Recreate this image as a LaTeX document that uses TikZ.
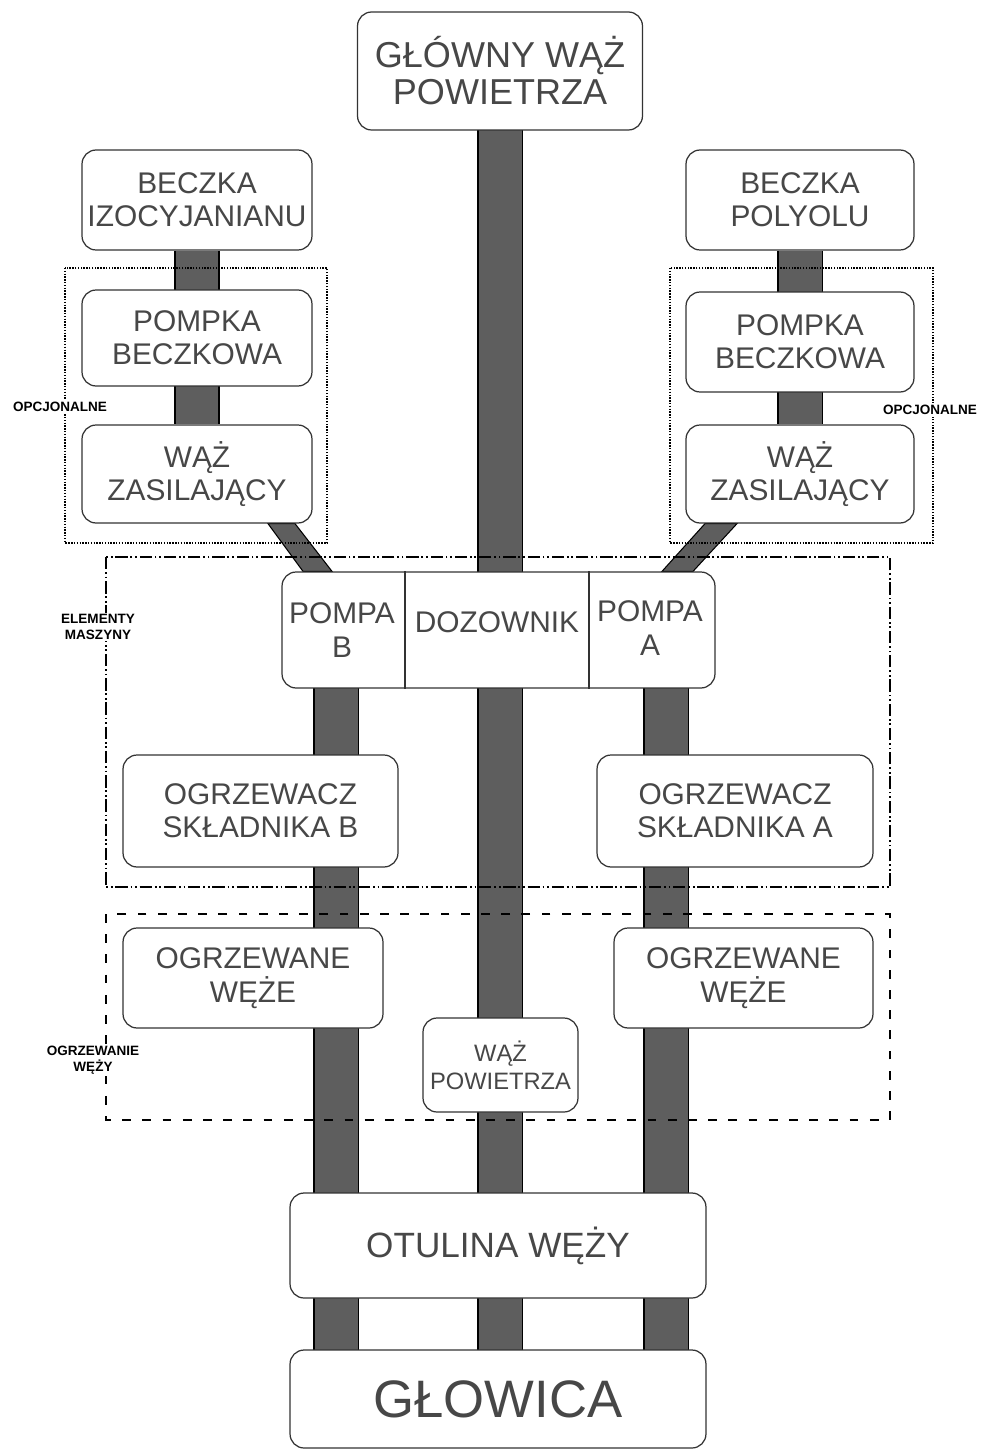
\documentclass[tikz,border=0pt]{standalone}
\usepackage{fontspec}
\setmainfont{Liberation Sans}
\usepackage{tikz}
\usetikzlibrary{backgrounds}
\definecolor{txtgray}{HTML}{474747}
\definecolor{hosegray}{HTML}{5E5E5E}

\begin{document}
\begin{tikzpicture}[x=0.02cm, y=-0.02cm,
    box/.style={draw=black!80, fill=white, line width=0.7pt, rounded corners=8pt,
      inner sep=0pt, text=txtgray, align=center, font=\fontsize{17}{19}\selectfont},
    size/.style 2 args={minimum width=#1, minimum height=#2},
    lbl/.style={text=txtgray, align=center, font=\fontsize{17}{19}\selectfont},
    divider/.style={draw=black!80, line width=0.7pt},
    hose/.style={draw=black, line width=0.6pt, double=hosegray, double distance=0.86cm},
    slant/.style={draw=black, line width=0.6pt, fill=hosegray},
    framelbl/.style={fill=white, inner sep=1pt, align=center, font=\fontsize{7.7}{9}\selectfont\bfseries},
    optframe/.style={line width=0.6pt, dash pattern=on 0.8pt off 0.8pt},
    machframe/.style={line width=0.7pt, dash pattern=on 7pt off 1.6pt on 1pt off 1.6pt on 1pt off 1.6pt},
    heatframe/.style={line width=0.8pt, dash pattern=on 5pt off 6.5pt},
  ]
  \useasboundingbox (0,0) rectangle (983,1449);

  % Air supply
  \node[box, size={5.7cm}{2.36cm}, font=\fontsize{20.5}{21}\selectfont] (main) at (500,71)
    {GŁÓWNY WĄŻ\\POWIETRZA};

  % Component B (left) and component A (right)
  \node[box, size={4.6cm}{2cm}] (barrelB) at (197,200) {BECZKA\\IZOCYJANIANU};
  \node[box, size={4.6cm}{1.92cm}] (pumpkaB) at (197,338) {POMPKA\\BECZKOWA};
  \node[box, size={4.6cm}{1.96cm}] (feedB) at (197,474) {WĄŻ\\ZASILAJĄCY};
  \node[box, size={4.56cm}{2cm}] (barrelA) at (800,200) {BECZKA\\POLYOLU};
  \node[box, size={4.56cm}{2cm}] (pumpkaA) at (800,342) {POMPKA\\BECZKOWA};
  \node[box, size={4.56cm}{1.96cm}] (feedA) at (800,474) {WĄŻ\\ZASILAJĄCY};

  % Proportioner block
  \node[box, size={8.66cm}{2.32cm}] (block) at (498.5,630) {};
  \coordinate (divL) at (405,630);
  \coordinate (divR) at (589,630);
  \draw[divider] (block.north -| divL) -- (block.south -| divL);
  \draw[divider] (block.north -| divR) -- (block.south -| divR);
  \node[lbl] (pumpB) at (342,630) {POMPA\\B};
  \node[lbl] (dozownik) at (497,622) {DOZOWNIK};
  \node[lbl] (pumpA) at (650,628) {POMPA\\A};
  \coordinate (pipeB) at (336,630);
  \coordinate (pipeA) at (666,630);

  % Heaters and heated hoses
  \node[box, size={5.5cm}{2.24cm}] (heaterB) at (260.5,811) {OGRZEWACZ\\SKŁADNIKA B};
  \node[box, size={5.52cm}{2.24cm}] (heaterA) at (735,811) {OGRZEWACZ\\SKŁADNIKA A};
  \node[box, size={5.2cm}{2cm}] (hoseB) at (253,978) {OGRZEWANE\\WĘŻE};
  \node[box, size={5.18cm}{2cm}] (hoseA) at (743.5,978) {OGRZEWANE\\WĘŻE};
  \node[box, size={3.1cm}{1.88cm}, font=\fontsize{13.5}{16}\selectfont] (airhose) at (500.5,1065)
    {WĄŻ\\POWIETRZA};

  % Bundle and gun
  \node[box, size={8.32cm}{2.1cm}, font=\fontsize{20}{22}\selectfont] (jacket) at (498,1245.5)
    {OTULINA WĘŻY};
  \node[box, size={8.32cm}{1.96cm}, font=\fontsize{30}{32}\selectfont] (head) at (498,1399)
    {GŁOWICA};

  % Hoses behind the boxes
  \begin{scope}[on background layer]
    \draw[hose] (main.center) -- (main.center |- head.center);
    \draw[hose] (barrelB) -- (feedB);
    \draw[hose] (barrelA) -- (feedA);
    \draw[hose] (pipeB) -- (pipeB |- head.center);
    \draw[hose] (pipeA) -- (pipeA |- head.center);
    \filldraw[slant] ([xshift=1.42cm]feedB.south) -- ([xshift=1.96cm]feedB.south)
      -- ([xshift=-3.33cm]block.north) -- ([xshift=-3.91cm]block.north) -- cycle;
    \filldraw[slant] ([xshift=-1.9cm]feedA.south) -- ([xshift=-1.26cm]feedA.south)
      -- ([xshift=3.89cm]block.north) -- ([xshift=3.27cm]block.north) -- cycle;
  \end{scope}

  % Frames
  \draw[optframe] (65,268) rectangle (327,543);
  \draw[optframe] (670,268) rectangle (933,543);
  \draw[machframe] (106,557) rectangle (890,887);
  \draw[heatframe] (106,914) rectangle (890,1120);

  \node[framelbl] (optB) at (60,407) {OPCJONALNE};
  \node[framelbl] (optA) at (930,410) {OPCJONALNE};
  \node[framelbl] (machine) at (98,627) {ELEMENTY\\MASZYNY};
  \node[framelbl] (heating) at (93,1060) {OGRZEWANIE\\WĘŻY};
\end{tikzpicture}
\end{document}
